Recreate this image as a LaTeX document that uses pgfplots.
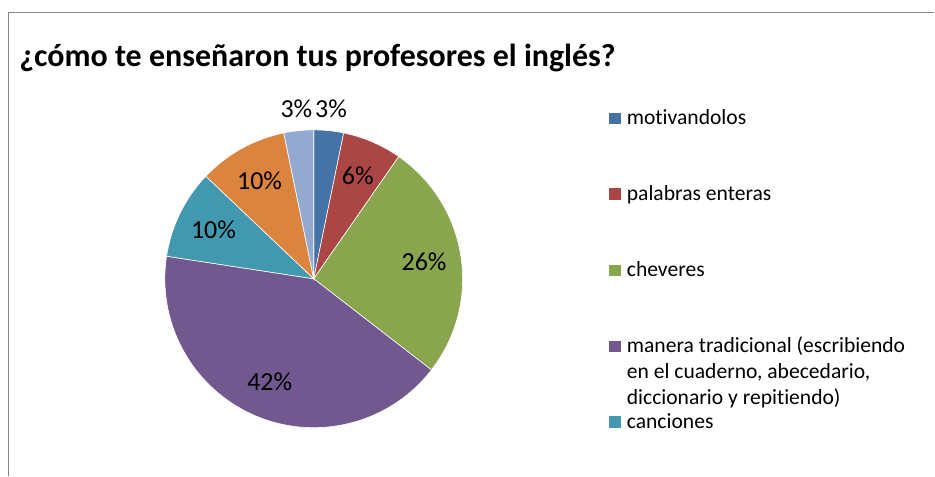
\documentclass[border=0pt]{standalone}
\usepackage{fontspec}
\setmainfont{Carlito}[Ligatures={NoCommon,NoContextual,NoRare}, Contextuals=NoAlternate]
\usepackage{pgfplots}
\usepackage{pgfplotstable}
\pgfplotsset{compat=1.18}

\definecolor{c1}{HTML}{4572A7}
\definecolor{c2}{HTML}{AA4643}
\definecolor{c3}{HTML}{89A54E}
\definecolor{c4}{HTML}{71588F}
\definecolor{c5}{HTML}{4198AF}
\definecolor{c6}{HTML}{DB843D}
\definecolor{c7}{HTML}{93A9CF}
\definecolor{frame}{HTML}{868686}
\tikzset{legtext/.style={anchor=base west, inner sep=0pt, font=\fontsize{10.8}{13}\selectfont}}

% answers (counts), clockwise from 12 o'clock
\pgfplotstableread[col sep=semicolon]{
answer;count;color
motivandolos;1;c1
palabras enteras;2;c2
cheveres;8;c3
manera tradicional;13;c4
canciones;3;c5
serie 6;3;c6
serie 7;1;c7
}\piedata

\begin{document}
\begin{tikzpicture}
\begin{axis}[
  width=467.5pt, height=238pt, scale only axis,
  xmin=0, xmax=935, ymin=0, ymax=476, y dir=reverse,
  hide axis, clip=false,
]
\path (axis cs:0,0) rectangle (axis cs:935,476);
\draw[frame, line width=0.8pt] (axis cs:8.5,476) -- (axis cs:8.5,12.5) -- (axis cs:935,12.5);
\node[anchor=base west, inner sep=0pt, font=\bfseries\fontsize{16}{19}\selectfont]
  at (axis cs:19,67) {¿cómo te enseñaron tus profesores el inglés?};

% pie: centre (314,279), radius 149 px = 74.5pt
\pgfplotsextra{
  \pgfplotstablegetrowsof{\piedata}
  \pgfmathtruncatemacro{\lastrow}{\pgfplotsretval-1}
  \gdef\total{0}
  \foreach \i in {0,...,\lastrow}{
    \pgfplotstablegetelem{\i}{count}\of{\piedata}
    \pgfmathsetmacro{\t}{\total+\pgfplotsretval}
    \xdef\total{\t}
  }
  \gdef\curang{90}
  \foreach \i in {0,...,\lastrow}{
    \pgfplotstablegetelem{\i}{count}\of{\piedata}
    \let\val\pgfplotsretval
    \pgfplotstablegetelem{\i}{color}\of{\piedata}
    \let\col\pgfplotsretval
    \pgfmathsetmacro{\sweep}{360*\val/\total}
    \pgfmathsetmacro{\endang}{\curang-\sweep}
    \pgfmathsetmacro{\midang}{\curang-\sweep/2}
    \pgfmathtruncatemacro{\pct}{round(100*\val/\total)}
    \pgfmathsetmacro{\lr}{ifthenelse(\pct<5,1.15,0.75)}
    \fill[fill=\col, draw=white, line width=0.3pt] (axis cs:314,279) -- ++(\curang:74.5pt)
      arc[start angle=\curang, end angle=\endang, radius=74.5pt] -- cycle;
    \node[inner sep=0pt, font=\fontsize{13}{15}\selectfont]
      at ([shift={({\midang}:{\lr*74.5pt})}]axis cs:314,279) {\pct\%};
    \xdef\curang{\endang}
  }
}

% legend (only the first five entries fit)
\fill[c1] (axis cs:610,113) rectangle (axis cs:622,124.5);
\node[legtext] at (axis cs:627,125) {motivandolos};
\fill[c2] (axis cs:610,188.5) rectangle (axis cs:622,200);
\node[legtext] at (axis cs:627,200.5) {palabras enteras};
\fill[c3] (axis cs:610,265) rectangle (axis cs:622,276.5);
\node[legtext] at (axis cs:627,277) {cheveres};
\fill[c4] (axis cs:610,341) rectangle (axis cs:622,352.5);
\node[legtext] at (axis cs:627,353) {manera tradicional (escribiendo};
\node[legtext] at (axis cs:627,379) {en el cuaderno, abecedario,};
\node[legtext] at (axis cs:627,405) {diccionario y repitiendo)};
\fill[c5] (axis cs:610,416.5) rectangle (axis cs:622,428);
\node[legtext] at (axis cs:627,428.5) {canciones};
\end{axis}
\end{tikzpicture}
\end{document}
